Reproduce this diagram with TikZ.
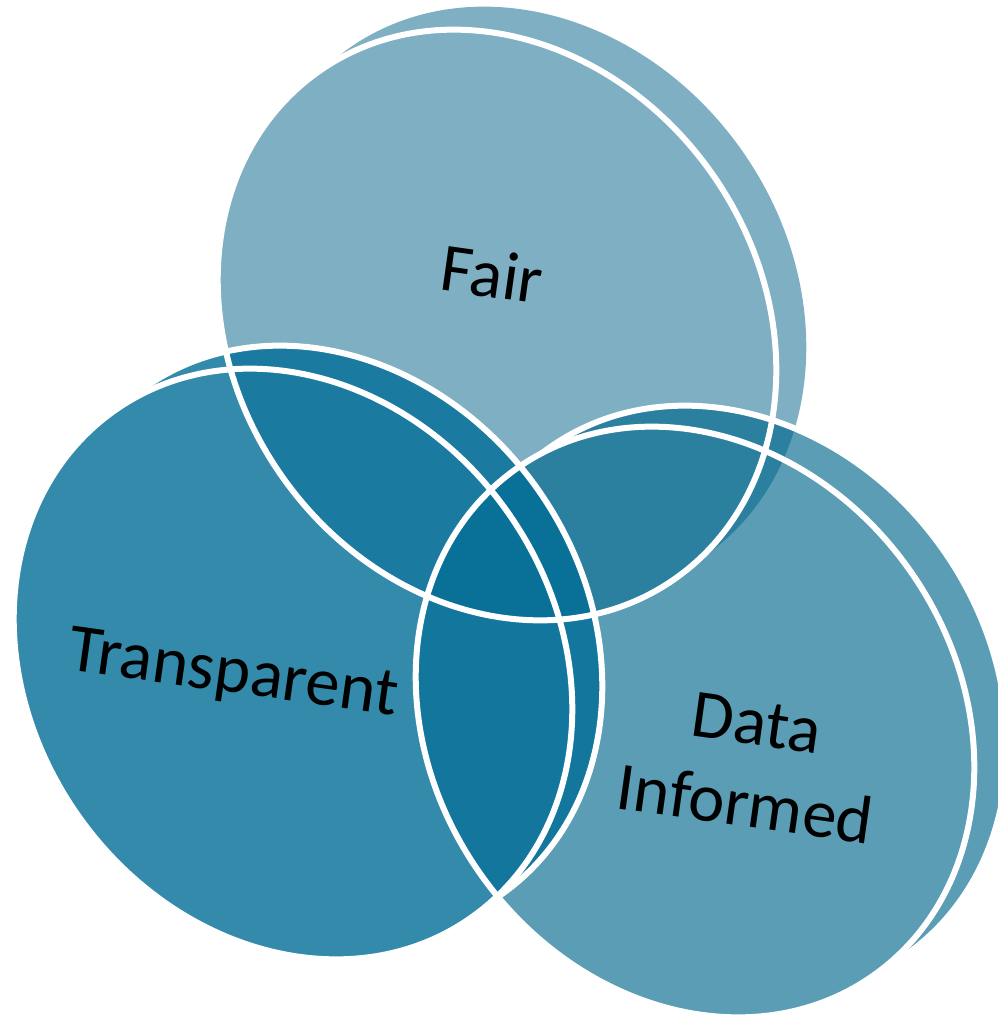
\documentclass[tikz,border=0pt]{standalone}
\usepackage{fontspec}
\setmainfont{Carlito}
\usetikzlibrary{positioning}

\definecolor{fairblue}{RGB}{127,175,195}
\definecolor{transblue}{RGB}{1,109,150}
\definecolor{datablue}{RGB}{1,104,141}

\tikzset{
  face/.style={x radius=6.2cm,y radius=5.26cm,rotate=-55},
  rim/.style={draw=white,line width=0.12cm},
  fairdisc/.style={fill=fairblue},
  datadisc/.style={fill=datablue,fill opacity=0.65},
  transdisc/.style={fill=transblue,fill opacity=0.8},
  lbl/.style={font=\fontsize{39}{47}\selectfont,text=black,rotate=-8,align=center}
}

\begin{document}
\begin{tikzpicture}[x=0.02cm,y=-0.02cm]
    \useasboundingbox (0,0) rectangle (997,1023);

    % discs: front face and the rim behind it
    \fill[fairdisc] (497,325) circle[face] (527,302) circle[face];
    \fill[datadisc] (695,722) circle[face] (728,701) circle[face];
    \fill[transdisc] (293,664) circle[face] (323,641) circle[face];

    % back rims, only outside their own face
    \begin{scope}[even odd rule]
      \clip (-20,-20) rectangle (1020,1045) (695,722) circle[face];
      \draw[rim] (728,701) circle[face];
    \end{scope}
    \begin{scope}[even odd rule]
      \clip (-20,-20) rectangle (1020,1045) (293,664) circle[face];
      \draw[rim] (323,641) circle[face];
    \end{scope}

    % front rims
    \foreach \c in {(497,325),(695,722),(293,664)}
    \draw[rim] \c circle[face];

    \node[lbl] (fair) at (492,274) {Fair};
    \node[lbl] (transparent) at (233,676) {Transparent};
    \node[lbl] (datainformed) at (751,764) {Data\\Informed};
\end{tikzpicture}
\end{document}
